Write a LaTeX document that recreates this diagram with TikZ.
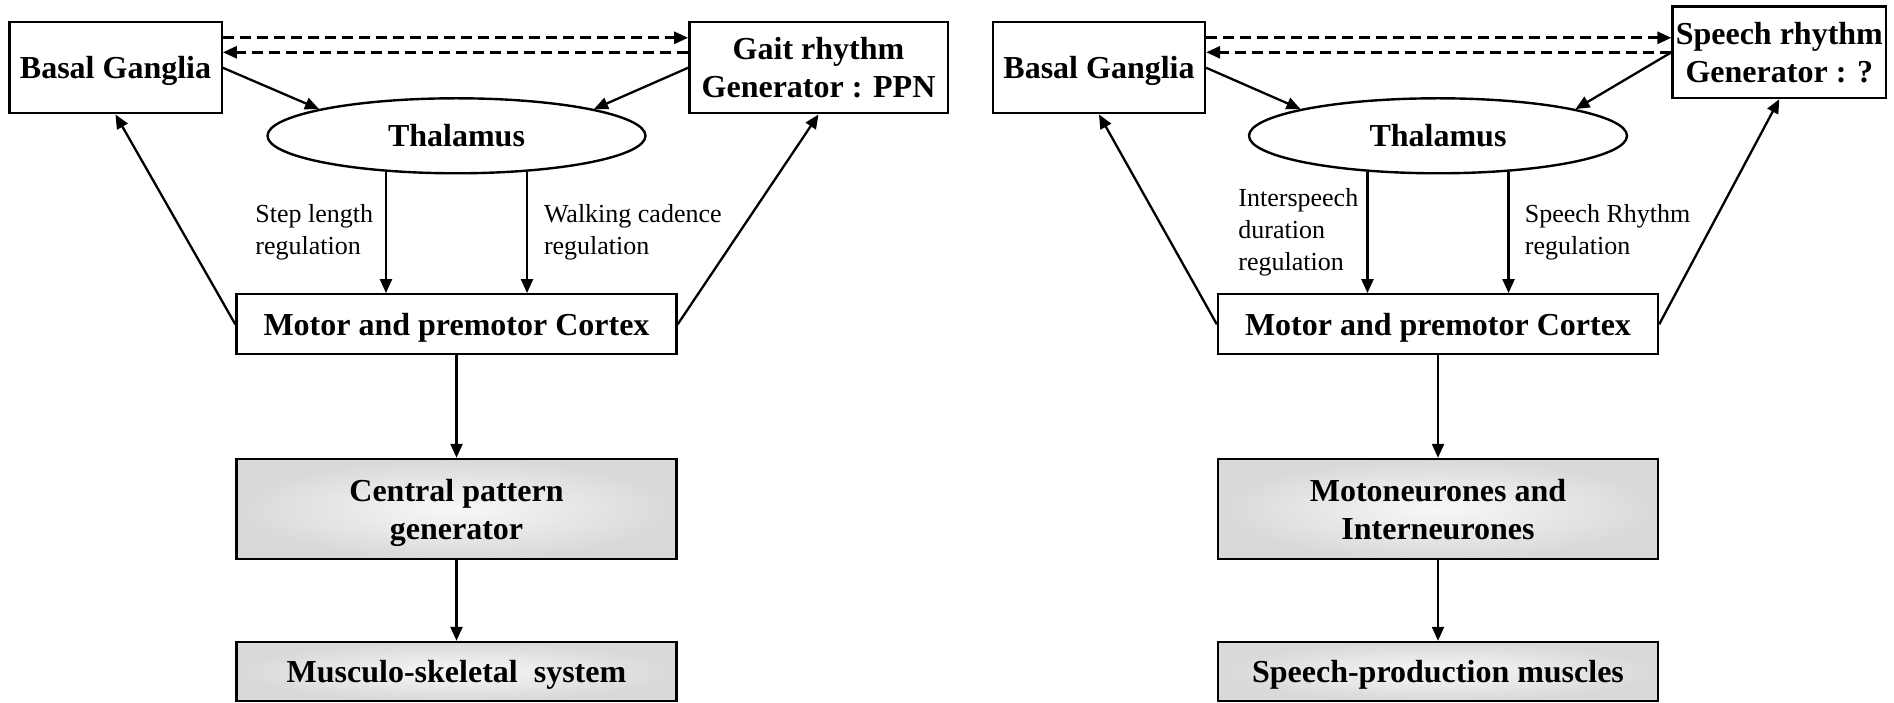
\documentclass[tikz,border=0pt]{standalone}
\usepackage{fontspec}
\setmainfont{Liberation Serif}
\usetikzlibrary{arrows.meta,shapes.geometric}
\begin{document}
\begin{tikzpicture}[x=0.5pt,y=0.5pt,
  box/.style={draw,line width=1.2pt,rectangle,inner sep=0pt,align=center,
    text depth=0pt,font=\fontsize{16pt}{19pt}\selectfont\bfseries},
  shadebox/.style={box,inner color=white!97!black,outer color=black!15},
  thalbox/.style={draw,line width=1.2pt,ellipse,inner sep=0pt,
    minimum width=189pt,minimum height=37.5pt,
    font=\fontsize{16pt}{19pt}\selectfont\bfseries},
  lbl/.style={inner sep=0pt,align=left,anchor=west,
    font=\fontsize{13pt}{16pt}\selectfont},
  arr/.style={line width=1.15pt,-{Triangle[length=7pt,width=6pt]}},
  darr/.style={arr,line width=1.4pt,dash pattern=on 5.5pt off 3pt}]
\path[use as bounding box] (0,0) rectangle (1894,702);

% ---------- left panel ----------
\node[box,minimum width=106.2pt,minimum height=45.5pt] (bgL) at (115.5,634.2) {Basal Ganglia};
\node[box,minimum width=129.2pt,minimum height=45.5pt] (gaitL) at (818.5,634.2) {Gait rhythm\\Generator : PPN};
\node[thalbox] (thL) at (456.5,566.2) {Thalamus};
\node[box,minimum width=220pt,minimum height=30pt] (motL) at (456.5,377.7) {Motor and premotor Cortex};
\node[shadebox,minimum width=220pt,minimum height=50pt] (cpgL) at (456.5,193) {Central pattern\\generator};
\node[shadebox,minimum width=220pt,minimum height=29.5pt] (musL) at (456.5,30.5) {Musculo-skeletal\ \ system};

\node[lbl] (l1) at (255,470) {Step length\\regulation};
\node[lbl] (l2) at (543.6,470) {Walking cadence\\regulation};

\draw[darr] ([yshift=15pt]bgL.east) -- ([yshift=15pt]gaitL.west);
\draw[darr] ([yshift=7.75pt]gaitL.west) -- ([yshift=7.75pt]bgL.east);
\draw[arr] (bgL.east) -- (thL.169);
\draw[arr] (gaitL.west) -- (thL.11);
\draw[arr] (thL.207) -- (thL.207 |- motL.north);
\draw[arr] (thL.333) -- (thL.333 |- motL.north);
\draw[arr] (motL.west) -- (bgL.south);
\draw[arr] (motL.east) -- (gaitL.south);
\draw[arr] (motL) -- (cpgL);
\draw[arr] (cpgL) -- (musL);

% ---------- right panel ----------
\node[box,minimum width=106pt,minimum height=45.5pt] (bgR) at (1099,634.2) {Basal Ganglia};
\node[box,minimum width=106.7pt,minimum height=45.7pt] (spR) at (1779.3,649.7) {Speech rhythm\\Generator : ?};
\node[thalbox] (thR) at (1438,566.2) {Thalamus};
\node[box,minimum width=220pt,minimum height=30pt] (motR) at (1438,377.7) {Motor and premotor Cortex};
\node[shadebox,minimum width=220pt,minimum height=50pt] (mnR) at (1438,193) {Motoneurones and\\Interneurones};
\node[shadebox,minimum width=220pt,minimum height=29.5pt] (spmR) at (1438,30.5) {Speech-production muscles};

\node[lbl] (l3) at (1238,470) {Interspeech\\duration\\regulation};
\node[lbl] (l4) at (1524.5,470) {Speech Rhythm\\regulation};

\draw[darr] ([yshift=15pt]bgR.east) -- ([yshift=15pt]bgR.east -| spR.west);
\draw[darr] (spR.west) -- (spR.west -| bgR.east);
\draw[arr] (bgR.east) -- (thR.169);
\draw[arr] (spR.west) -- (thR.11);
\draw[arr] (thR.207) -- (thR.207 |- motR.north);
\draw[arr] (thR.333) -- (thR.333 |- motR.north);
\draw[arr] (motR.west) -- (bgR.south);
\draw[arr] (motR.east) -- (spR.south);
\draw[arr] (motR) -- (mnR);
\draw[arr] (mnR) -- (spmR);
\end{tikzpicture}
\end{document}
